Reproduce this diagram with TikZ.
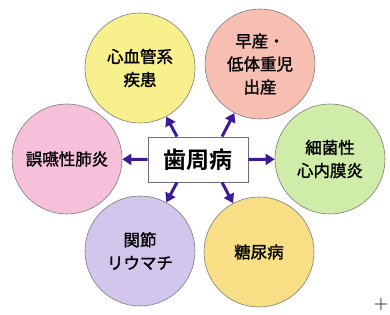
\documentclass[tikz,border=0pt]{standalone}
\usepackage{fontspec}
\usepackage{tikz}
\usetikzlibrary{positioning,arrows.meta,calc}
\newfontfamily\jpfont[FakeBold=1.5]{Noto Sans CJK JP}
\newfontfamily\jpbold{Noto Sans CJK JP Bold}
\definecolor{pdyellow}{HTML}{F8F08C}
\definecolor{pdsalmon}{HTML}{F7BFB1}
\definecolor{pdgreen}{HTML}{CFECA8}
\definecolor{pdpink}{HTML}{F6BFDA}
\definecolor{pdpurple}{HTML}{D3C6EC}
\definecolor{pdorange}{HTML}{F8DE84}
\definecolor{pdarrow}{HTML}{3E1A96}
\definecolor{pdedge}{HTML}{7C7C7C}
\tikzset{
  disease/.style={circle,draw=pdedge,line width=0.6pt,minimum size=110pt,
                  inner sep=0pt,align=center,
                  font=\fontsize{16.5}{23}\selectfont\jpfont},
  hub/.style={draw=pdedge!80!pdarrow,fill=white,line width=0.8pt,
              minimum width=100pt,minimum height=45pt,
              font=\fontsize{23}{26}\selectfont\jpbold},
  arr/.style={pdarrow,line width=3pt,-{Triangle[length=9pt,width=11pt]}}
}
\begin{document}
\begin{tikzpicture}[x=1pt,y=1pt]
    \useasboundingbox (0,0) rectangle (390,315);
    % hub
    \node[hub] (pd) at (198,155.5){歯周病};
    % diseases around
    \node[disease,fill=pdyellow] (cvd) at (140,247){心血管系\\疾患};
    \node[disease,fill=pdsalmon] (lbw) at (260,251){早産・\\低体重児\\出産};
    \node[disease,fill=pdpink] (asp) at (67,156){誤嚥性肺炎};
    \node[disease,fill=pdgreen] (ie) at (330,156){細菌性\\心内膜炎};
    \node[disease,fill=pdpurple] (ra) at (140,64){関節\\リウマチ};
    \node[disease,fill=pdorange] (dm) at (259,63){糖尿病};
    % arrows
    \draw[arr] (pd.west) -- (asp);
    \draw[arr] (pd.east) -- (ie);
    \draw[arr] ([xshift=-21pt]pd.north) -- (cvd);
    \draw[arr] ([xshift=24pt]pd.north) -- (lbw);
    \draw[arr] ([xshift=-21pt]pd.south) -- (ra);
    \draw[arr] ([xshift=24pt]pd.south) -- (dm);
    \node[font=\fontsize{20}{20}\selectfont] (mark) at (381,10){+};
\end{tikzpicture}
\end{document}
